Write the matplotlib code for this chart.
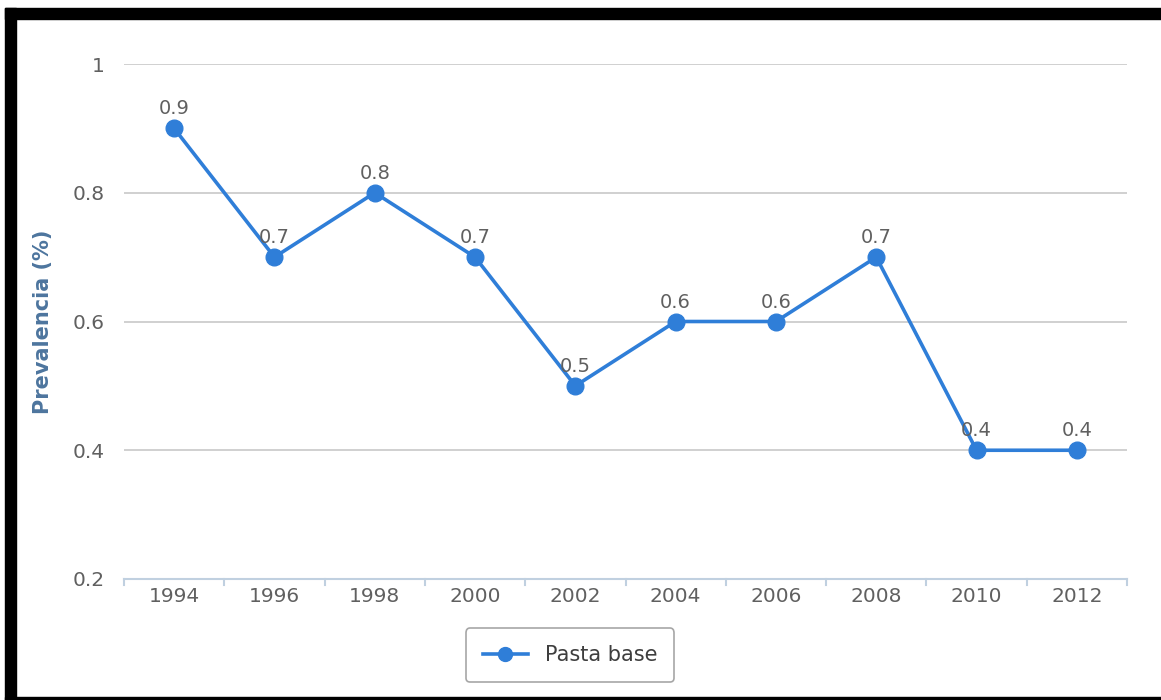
import matplotlib.pyplot as plt
from matplotlib.patches import Rectangle
from matplotlib.lines import Line2D

years = ['1994', '1996', '1998', '2000', '2002', '2004', '2006', '2008', '2010', '2012']
pasta_base = [0.9, 0.7, 0.8, 0.7, 0.5, 0.6, 0.6, 0.7, 0.4, 0.4]
y_ticks = [0.2, 0.4, 0.6, 0.8, 1]
y_tick_labels = ['0.2', '0.4', '0.6', '0.8', '1']

W, H = 1161, 700
line_clr = '#2f7ed8'
text_clr = '#606060'

fig = plt.figure(figsize=(W / 100, H / 100), dpi=100)
ax = fig.add_axes([124 / W, (H - 579) / H, (1127 - 124) / W, (579 - 64) / H])

x = list(range(len(years)))
ax.plot(x, pasta_base, color=line_clr, lw=2.6, marker='o', ms=12, zorder=3)
for xi, v in zip(x, pasta_base):
    ax.annotate(str(v), (xi, v), xytext=(0, 10), textcoords='offset points',
                ha='center', va='baseline', fontsize=14, color=text_clr)

ax.set_xlim(-0.5, len(years) - 0.5)
ax.set_ylim(0.2, 1.0)
ax.set_yticks(y_ticks)
ax.set_yticklabels(y_tick_labels)
ax.set_xticks(x)
ax.set_xticklabels(years)
ax.tick_params(axis='x', length=0, pad=6, labelsize=14.5, labelcolor=text_clr)
ax.tick_params(axis='y', length=0, pad=14, labelsize=14.5, labelcolor=text_clr)

# grid lines (skip the axis baseline)
for yv in y_ticks[1:]:
    ax.axhline(yv, color='#c8c8c8', lw=1.2, zorder=1)

for s in ['top', 'right', 'left']:
    ax.spines[s].set_visible(False)
ax.spines['bottom'].set_color('#c0d0e0')
ax.spines['bottom'].set_linewidth(1.5)
# category boundary ticks
for b in range(len(years) + 1):
    ax.plot([b - 0.5, b - 0.5], [0, -0.011], color='#c0d0e0', lw=1.5,
            transform=ax.get_xaxis_transform(), clip_on=False)

ax.set_ylabel('Prevalencia (%)', fontsize=15, fontweight='bold', color='#4d759e', labelpad=14)

handle = Line2D([], [], color=line_clr, lw=2.6, marker='o', ms=10)
leg = fig.legend([handle], ['Pasta base'], loc='center', bbox_to_anchor=(570 / W, (H - 655) / H),
                 frameon=True, fontsize=15, handlelength=2.2, borderpad=0.8, borderaxespad=0,
                 labelcolor='#3e3e3e', fancybox=True)
leg.get_frame().set_edgecolor('#909090')
leg.get_frame().set_linewidth(1.2)

# black frame around the picture
fig.patches.append(Rectangle((5 / W, 0), 11 / W, (H - 8) / H, transform=fig.transFigure,
                             color='black', zorder=10))
fig.patches.append(Rectangle((5 / W, (H - 19) / H), (W - 5) / W, 11 / H, transform=fig.transFigure,
                             color='black', zorder=10))
fig.patches.append(Rectangle((5 / W, 0), (W - 5) / W, 3 / H, transform=fig.transFigure,
                             color='black', zorder=10))

fig.savefig('out.png', dpi=100)
